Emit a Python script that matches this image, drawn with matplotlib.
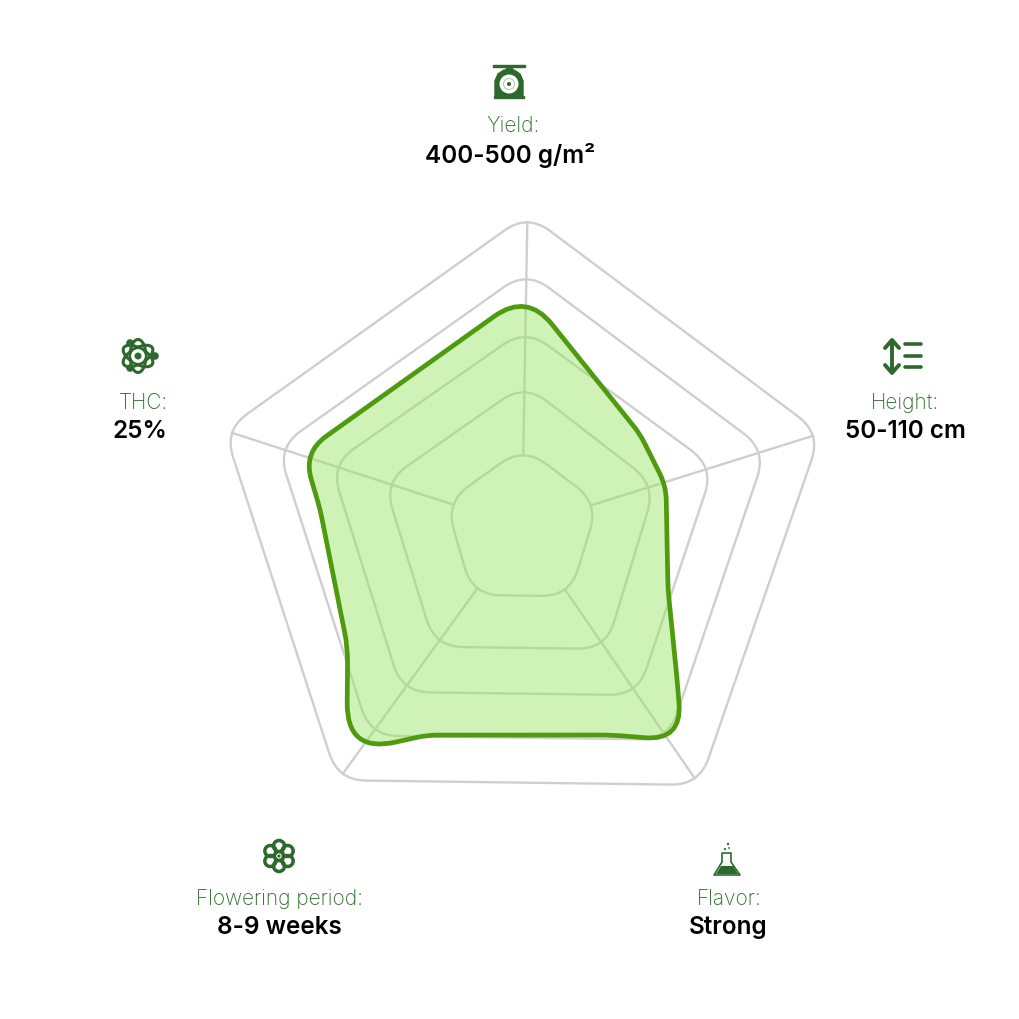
"""Rounded radar chart of cultivar traits."""

import numpy as np
import matplotlib

matplotlib.use("Agg")
import matplotlib.pyplot as plt
from matplotlib.patches import Circle, Ellipse, PathPatch, Polygon, Rectangle
from matplotlib.path import Path

CENTER_X, CENTER_Y = 522, 528

axis_angles = [1, 72.6, 145.5, 216, 288]

# ring radius on each axis, the rings in the picture are not quite regular
ring_1 = [80, 80, 84, 84, 80]
ring_2 = [143, 140, 148, 148, 145]
ring_3 = [198, 201, 204, 204, 201]
ring_4 = [256, 256, 258, 258, 257]
ring_5 = [313, 313, 313, 313, 313]

# outline of the filled shape (angle, radius, corner size)
series_angles = [1.2, 51.8, 74.1, 113, 134.4, 143.2, 156.4, 204.5, 217.8, 235.3, 275.1, 288.8]
series_radii = [234, 150.2, 149.7, 158.6, 217, 267.2, 227, 228.7, 286, 212, 202.8, 231]
series_round = [40, 10, 14, 10, 12, 38, 15, 10, 50, 15, 10, 28]

field_names = ["Yield:", "Height:", "Flavor:", "Flowering period:", "THC:"]
field_values = ["400-500 g/m²", "50-110 cm", "Strong", "8-9 weeks", "25%"]
name_pos = [(513, 126), (905, 403), (729, 899), (280, 899), (143, 403)]
value_pos = [(510, 156), (905, 432), (728, 928), (279, 928), (140, 432)]

GRID = "#cfcfcf"
LINE = "#4f9a0f"
FILL = "#98e463"
ICON = "#2d682d"
LABEL = "#2f6e2b"

plt.rcParams["font.family"] = ["Inter", "DejaVu Sans"]


def polar_xy(angles, radii):
    theta = np.radians(angles)
    radii = np.asarray(radii, dtype=float)
    return np.column_stack((radii * np.sin(theta), radii * np.cos(theta)))


def rounded_path(points, corners):
    verts, codes = [], []
    count = len(points)
    for i in range(count):
        here = points[i]
        before = points[i - 1] - here
        after = points[(i + 1) % count] - here
        start = here + before / np.linalg.norm(before) * corners[i]
        end = here + after / np.linalg.norm(after) * corners[i]
        verts += [start, here, end]
        codes += [Path.MOVETO if i == 0 else Path.LINETO, Path.CURVE3, Path.CURVE3]
    verts.append(verts[0])
    codes.append(Path.CLOSEPOLY)
    return Path(verts, codes)


def pix(x, y):
    return x - CENTER_X, CENTER_Y - y


def icon_scale(ax):
    ax.add_patch(Rectangle(pix(493, 68), 32, 2, color=ICON))
    ax.add_patch(Rectangle(pix(506, 71), 6, 3, color=ICON))
    body = [pix(x, y) for x, y in [(495, 97), (495, 82), (498, 75), (504, 71), (514, 71), (520, 75), (523, 82), (523, 97)]]
    ax.add_patch(Polygon(body, closed=True, color=ICON, lw=1))
    ax.add_patch(Rectangle(pix(494, 99), 30, 2, color=ICON))
    ax.add_patch(Circle(pix(509, 85), 9.5, color="white", lw=0))
    ax.add_patch(Circle(pix(509, 85), 5.5, fill=False, ec="#b5ccb5", lw=0.8))
    ax.add_patch(Circle(pix(509, 85), 2, color=ICON, lw=0))


def icon_atom(ax):
    middle = pix(138, 357)
    for tilt in (30, 90, 150):
        ax.add_patch(Ellipse(middle, 33, 16, angle=tilt, fill=False, ec=ICON, lw=2.2))
    ax.add_patch(Circle(middle, 8, color="white", lw=0, zorder=3))
    ax.add_patch(Circle(middle, 8, fill=False, ec=ICON, lw=1.6, zorder=3))
    ax.add_patch(Circle(middle, 3.5, color=ICON, lw=0, zorder=3))
    for x, y in [(130, 344), (155, 357), (130, 369)]:
        ax.add_patch(Circle(pix(x, y), 3.8, color=ICON, lw=0))


def icon_height(ax):
    ax.plot(*zip(pix(892, 342), pix(892, 373)), color=ICON, lw=2.8, solid_capstyle="round")
    for y, tip in [(349, 341), (366, 374)]:
        ax.plot(*zip(pix(885, y), pix(892, tip), pix(899, y)), color=ICON, lw=2.8,
                solid_capstyle="round", solid_joinstyle="round")
    for y in (345, 357, 368):
        ax.plot(*zip(pix(905, y), pix(921, y)), color=ICON, lw=2.6, solid_capstyle="round")


def icon_flower(ax):
    for tilt in np.radians(np.arange(30, 360, 60)):
        spot = (279 + 10 * np.cos(tilt), 857 + 10 * np.sin(tilt))
        ax.add_patch(Circle(pix(*spot), 5.5, fill=False, ec=ICON, lw=2.5))
    ax.add_patch(Circle(pix(279, 857), 3.8, fill=False, ec=ICON, lw=1.4))
    ax.add_patch(Circle(pix(279, 857), 1.6, color=ICON, lw=0))


def icon_flask(ax):
    glass = [pix(x, y) for x, y in [(722, 854), (731, 854), (731, 863), (740, 876), (714, 876), (722, 863)]]
    ax.add_patch(Polygon(glass, closed=True, fill=False, ec=ICON, lw=1.2, joinstyle="round"))
    liquid = [pix(x, y) for x, y in [(721, 867), (733, 867), (738, 875), (716, 875)]]
    ax.add_patch(Polygon(liquid, closed=True, color=ICON, lw=0))
    for x, y, size in [(728, 845, 1.2), (725, 850, 1.1), (729, 849, 0.9)]:
        ax.add_patch(Circle(pix(x, y), size, color=ICON, lw=0))


fig = plt.figure(figsize=(10.2, 10.2), dpi=100)
ax = fig.add_axes([0, 0, 1, 1])
ax.set_xlim(-CENTER_X, 1020 - CENTER_X)
ax.set_ylim(CENTER_Y - 1020, CENTER_Y)
ax.axis("off")

rings = [ring_1, ring_2, ring_3, ring_4, ring_5]
for ring_values in rings:
    ring = polar_xy(axis_angles, ring_values)
    ax.add_patch(PathPatch(rounded_path(ring, [28] * 5), fill=False, ec=GRID, lw=1.7, zorder=1))

for i, angle in enumerate(axis_angles):
    ends = polar_xy([angle, angle], [ring_1[i] - 8, ring_5[i] - 8])
    ax.plot(ends[:, 0], ends[:, 1], color=GRID, lw=1.7, zorder=1)

shape = rounded_path(polar_xy(series_angles, series_radii), series_round)
ax.add_patch(PathPatch(shape, fc=FILL, ec="none", alpha=0.46, zorder=2))
ax.add_patch(PathPatch(shape, fill=False, ec=LINE, lw=3.4, joinstyle="round", zorder=3))

for name, value, (nx, ny), (vx, vy) in zip(field_names, field_values, name_pos, value_pos):
    ax.text(*pix(nx, ny), name, color=LABEL, fontsize=15, fontweight="light", ha="center", va="center")
    ax.text(*pix(vx, vy), value, color="black", fontsize=17.5, fontweight="semibold", ha="center", va="center")

icon_scale(ax)
icon_atom(ax)
icon_height(ax)
icon_flower(ax)
icon_flask(ax)

fig.savefig("out.png", dpi=100, facecolor="white")
